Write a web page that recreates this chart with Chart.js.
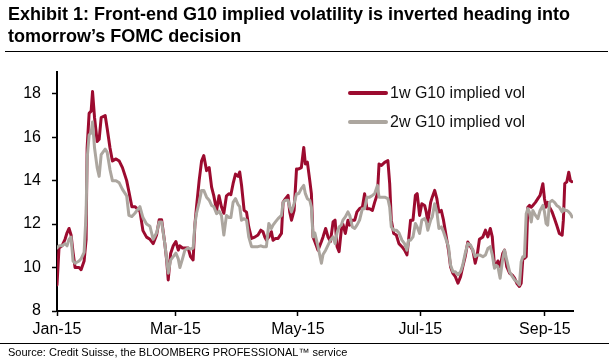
<!DOCTYPE html>
<html>
<head>
<meta charset="utf-8">
<script src="https://cdn.jsdelivr.net/npm/chart.js@4.4.0/dist/chart.umd.min.js"></script>
<style>
  html, body { margin: 0; padding: 0; background: #fff; }
  #wrap { position: relative; width: 613px; height: 360px; overflow: hidden;
          font-family: "Liberation Sans", Arial, sans-serif; color: #000; }
  #chart { position: absolute; left: 0; top: 0; }
  .title { position: absolute; left: 8px; top: 3px; font-weight: bold; font-size: 18px; line-height: 22px; }
  .rule { position: absolute; height: 0; border-top: 1.5px solid #000; }
  .source { position: absolute; left: 8px; top: 346px; font-size: 11px; }
  .legend { position: absolute; left: 348px; top: 78px; font-size: 16px; color: #111; }
  .legend-row { display: flex; align-items: center; height: 29px; }
  .legend-swatch { width: 40px; height: 4px; margin-right: 2px; border-radius: 2px; }
</style>
</head>
<body>
<div id="wrap">
  <canvas id="chart" width="613" height="360"></canvas>
  <div class="title">Exhibit 1: Front-end G10 implied volatility is inverted heading into<br>tomorrow’s FOMC decision</div>
  <div class="rule" style="left:5px; top:51px; width:603px;"></div>
  <div class="legend" id="legend"></div>
  <div class="rule" style="left:0; top:343px; width:609px;"></div>
  <div class="source">Source: Credit Suisse, the BLOOMBERG PROFESSIONAL™ service</div>
</div>
<script>
'use strict';

// Days since 1 Jan 2015.
const dayOfYear = [
    0, 1, 2.5, 4, 5, 6, 7, 8, 9, 11, 12, 13.5, 14.5, 15, 16, 17, 17.7, 18.7, 20, 21,
    22, 24, 25, 26.4, 27.6, 29.4, 31, 32.6, 34.7, 35.8, 37.3, 38.8, 41.3, 42.8, 44.6, 46.3, 47.9, 49.6, 50.9, 52.1,
    53.7, 54.6, 55.4, 56.6, 57.9, 59.2, 60.4, 61.2, 62.5, 63.7, 65.3, 66.5, 67.8, 68.7, 69.5, 70.8, 72, 73.1, 74.5, 75.8,
    77, 78.1, 79.5, 80.7, 81.9, 83.1, 84.4, 85.7, 86.6, 87.7, 88.9, 90.2, 91, 91.9, 93.2, 94.4, 95.5, 96.9, 98.5, 100.1,
    101.5, 102.6, 103.5, 104.3, 105.5, 106.8, 107.6, 108.8, 110.1, 111.8, 112.6, 113.8, 115.1, 115.9, 116.8, 118.1, 119.3, 120.4, 121.7, 122.9,
    123.7, 124.7, 125.9, 126.7, 127.5, 128.4, 130, 131.7, 132.5, 133.8, 135, 136.2, 137.5, 138.5, 139.5, 140.5, 141.6, 142.4, 143.6, 144.9,
    145.8, 147.1, 148.3, 149.4, 150.7, 152.1, 153.2, 154.4, 155.7, 157.1, 158.2, 159.6, 160.4, 161.6, 163.2, 164.8, 165.7, 166.5, 167.7, 169,
    170.3, 171.8, 173.1, 174.3, 175.1, 176.1, 177.3, 178.5, 179.4, 180.6, 181.7, 183.1, 183.9, 184.7, 186.1, 186.9, 188.1, 189.2, 190.2, 191.4,
    192.5, 193.9, 195, 196, 197.2, 198.4, 199.7, 201, 202.1, 203.3, 204.6, 206, 207.1, 208.3, 209.3, 210.4, 212.1, 213.4, 214.6, 215.8,
    216.8, 217.9, 218.8, 219.6, 220.7, 222, 222.9, 224, 225.4, 226.7, 227.9, 229, 230.3, 231.2, 232, 232.8, 233.7, 234.5, 235.3, 236.2,
    237, 238.3, 239.5, 240.6, 242, 242.8, 243.6, 244.4, 245.3, 246.6, 247.8, 248.9, 250.2, 251.6, 252.2, 252.9, 253.9, 254.9, 255.7, 256.5,
];

const oneWeekVol = [
    9.2, 10.9, 11.0, 11.3, 11.6, 11.8, 11.5, 10.7, 10.0, 10.0, 9.9, 10.3, 11.3, 15.5, 17.1, 17.2, 18.1, 16.9, 15.8, 15.9,
    16.9, 17.0, 16.4, 15.5, 14.9, 15.0, 14.9, 14.6, 14.0, 13.5, 12.8, 12.8, 12.6, 11.7, 11.4, 11.3, 11.1, 11.5, 12.2, 12.2,
    11.1, 10.35, 9.43, 10.65, 11.0, 11.2, 10.8, 11.0, 10.9, 10.9, 10.9, 10.5, 10.35, 12.0, 12.8, 14.0, 14.9, 15.15, 14.46, 14.6,
    13.7, 13.3, 12.63, 13.3, 12.8, 12.5, 13.3, 13.4, 13.35, 13.86, 14.3, 14.2, 14.4, 13.8, 12.63, 12.55, 11.87, 11.34, 11.4, 11.5,
    11.72, 11.65, 11.4, 11.26, 11.4, 11.65, 11.26, 11.34, 11.34, 11.57, 13.0, 13.17, 13.32, 12.56, 12.18, 12.63, 14.54, 14.54, 14.6, 15.53,
    14.77, 14.85, 14.0, 13.4, 11.41, 11.2, 10.8, 11.2, 11.41, 11.8, 11.4, 11.2, 12.1, 12.18, 10.96, 10.73, 11.72, 12.0, 11.57, 12.18,
    11.95, 12.18, 12.18, 12.56, 12.71, 12.78, 13.4, 12.71, 12.71, 12.63, 13.0, 13.4, 14.77, 14.7, 14.84, 14.92, 13.86, 12.18, 11.57, 11.5,
    11.1, 10.96, 10.8, 10.58, 11.26, 12.18, 12.18, 13.32, 13.4, 12.4, 12.94, 12.86, 12.56, 12.1, 13.0, 13.24, 13.55, 13.17, 12.56, 12.63,
    12.18, 11.41, 10.8, 10.04, 9.73, 9.58, 9.28, 9.58, 10.04, 10.5, 11.18, 10.96, 10.8, 10.2, 10.58, 11.3, 11.41, 11.72, 11.41, 11.8,
    11.41, 10.04, 10.1, 10.3, 10.04, 10.65, 10.8, 10.04, 9.74, 9.66, 9.51, 9.28, 9.13, 9.28, 10.42, 10.42, 10.5, 12.78, 12.86, 12.78,
    12.86, 13.0, 13.17, 13.32, 13.86, 13.17, 12.78, 13.0, 12.78, 12.56, 12.25, 11.95, 11.57, 11.49, 12.18, 13.86, 13.94, 14.39, 14.0, 13.95,
];

const twoWeekVol = [
    10.9, 11.0, 11.0, 11.1, 11.0, 11.3, 11.4, 10.3, 10.2, 10.3, 10.4, 10.7, 12.5, 15.0, 16.1, 16.2, 16.7, 15.5, 14.6, 14.2,
    15.2, 15.45, 15.3, 14.5, 14.0, 14.0, 13.9, 13.6, 13.3, 12.4, 12.35, 12.5, 12.8, 12.3, 12.0, 11.9, 11.3, 11.6, 12.1, 12.1,
    11.1, 10.4, 9.74, 10.35, 10.5, 10.66, 10.4, 10.0, 10.4, 10.8, 10.9, 10.85, 10.9, 12.0, 12.5, 13.0, 13.55, 13.55, 13.24, 13.1,
    12.86, 12.8, 12.48, 12.6, 12.4, 11.5, 12.4, 12.3, 12.3, 13.0, 13.17, 12.9, 12.8, 12.18, 12.25, 12.18, 11.41, 10.96, 10.96, 10.96,
    11.0, 10.96, 10.96, 10.96, 12.03, 11.8, 11.95, 12.1, 12.25, 12.4, 13.0, 13.1, 13.1, 12.78, 12.56, 12.95, 13.4, 13.4, 13.63, 13.78,
    13.4, 13.17, 13.09, 12.78, 11.41, 11.6, 10.96, 10.2, 10.6, 10.8, 11.03, 11.26, 11.41, 11.1, 11.6, 11.87, 11.95, 12.18, 12.33, 12.56,
    12.4, 11.87, 11.8, 11.95, 12.18, 12.71, 12.71, 13.24, 13.24, 13.32, 13.4, 13.78, 13.24, 13.24, 13.24, 13.17, 12.78, 11.87, 11.72, 11.72,
    11.6, 11.26, 11.1, 10.8, 11.26, 11.26, 11.41, 12.03, 11.87, 11.57, 12.18, 12.25, 12.1, 11.72, 12.18, 12.33, 12.94, 12.56, 11.8, 11.87,
    11.65, 11.26, 10.96, 10.12, 9.81, 9.81, 9.66, 9.81, 10.12, 10.65, 11.1, 11.03, 10.8, 10.5, 10.58, 10.58, 10.5, 10.58, 10.88, 10.96,
    10.58, 9.97, 10.1, 10.04, 9.51, 10.4, 10.8, 10.35, 9.81, 9.6, 9.43, 9.35, 9.2, 10.27, 10.5, 10.5, 12.48, 12.71, 12.56, 12.1,
    12.63, 12.4, 12.25, 12.63, 12.86, 12.56, 12.03, 11.95, 13.0, 13.09, 13.0, 12.86, 12.78, 12.56, 12.71, 12.63, 12.63, 12.56, 12.48, 12.33,
];

const seriesNames = ['1w G10 implied vol', '2w G10 implied vol'];
const seriesColors = ['#9c0b2f', '#aca69f'];

// Month ticks: day offset of the first of the month, and its label.
const monthDays = [0, 59, 120, 181, 243];
const monthLabels = ['Jan-15', 'Mar-15', 'May-15', 'Jul-15', 'Sep-15'];
const yTicks = [8, 10, 12, 14, 16, 18];

const toPoints = (values) => values.map((v, i) => ({x: dayOfYear[i], y: v}));

Chart.defaults.font.family = '"Liberation Sans", Arial, sans-serif';
Chart.defaults.font.size = 16;
Chart.defaults.color = '#000';

const axisGrid = {
    display: true,
    drawOnChartArea: false,
    drawTicks: true,
    tickLength: 5,
    tickColor: '#000',
    tickWidth: 1.5,
};

const chart = new Chart(document.getElementById('chart'), {
    type: 'line',
    data: {
        datasets: [
            {
                label: seriesNames[0],
                data: toPoints(oneWeekVol),
                borderColor: seriesColors[0],
                borderWidth: 3,
                order: 2,
            },
            {
                label: seriesNames[1],
                data: toPoints(twoWeekVol),
                borderColor: seriesColors[1],
                borderWidth: 3,
                order: 1,
            },
        ],
    },
    options: {
        responsive: false,
        animation: false,
        events: [],
        elements: {
            point: {radius: 0},
            line: {tension: 0, borderJoinStyle: 'round', borderCapStyle: 'round'},
        },
        layout: {padding: {top: 72, right: 40, bottom: 19, left: 0}},
        plugins: {legend: {display: false}, tooltip: {enabled: false}},
        scales: {
            x: {
                type: 'linear',
                min: 0,
                max: 257,
                grid: axisGrid,
                border: {display: true, color: '#000', width: 2},
                ticks: {
                    autoSkip: false,
                    maxRotation: 0,
                    padding: 4,
                    callback: (v) => monthLabels[monthDays.indexOf(v)],
                },
                afterBuildTicks: (scale) => {
                    scale.ticks = monthDays.map((v) => ({value: v}));
                },
                afterFit: (scale) => {
                    scale.height = 30;
                },
            },
            y: {
                min: 8,
                max: 19,
                grid: axisGrid,
                border: {display: true, color: '#000', width: 2},
                ticks: {padding: 11},
                afterBuildTicks: (scale) => {
                    scale.ticks = yTicks.map((v) => ({value: v}));
                },
                afterFit: (scale) => {
                    scale.width = 57;
                },
            },
        },
    },
});

// HTML legend built from the datasets.
const legend = document.getElementById('legend');
chart.data.datasets.forEach((ds) => {
    const row = document.createElement('div');
    row.className = 'legend-row';
    const swatch = document.createElement('span');
    swatch.className = 'legend-swatch';
    swatch.style.background = ds.borderColor;
    const text = document.createElement('span');
    text.textContent = ds.label;
    row.appendChild(swatch);
    row.appendChild(text);
    legend.appendChild(row);
});
</script>
</body>
</html>
